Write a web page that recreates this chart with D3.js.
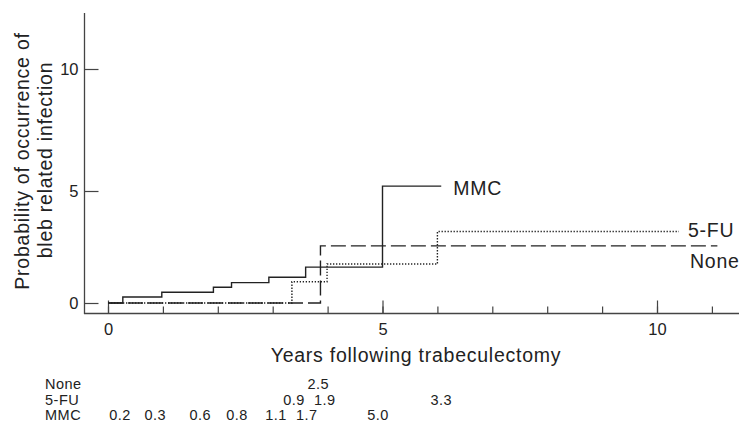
<!DOCTYPE html>
<html>
<head>
<meta charset="utf-8">
<script src="https://cdn.jsdelivr.net/npm/d3@7"></script>
<style>
  body { margin: 0; background: #fff; }
  svg { display: block; font-family: "Liberation Sans", Arial, sans-serif; }
  .lbl { fill: #222; font-size: 19.5px; letter-spacing: 0.75px; }
  .tbl { fill: #222; font-size: 14.5px; letter-spacing: 0.5px; }
</style>
</head>
<body>
<div id="chart"></div>
<script>
// Step curves (years, probability %)
const mmcTimes  = [0, 0.27, 0.98, 1.92, 2.25, 2.93, 3.6, 5.0];
const mmcValues = [0, 0.27, 0.48, 0.70, 0.91, 1.15, 1.60, 5.2];
const mmcEnd = 6.07;

const fuTimes  = [0, 3.35, 3.99, 6.0];
const fuValues = [0, 0.95, 1.74, 3.19];
const fuEnd = 10.4;

const noneTimes  = [0, 3.87];
const noneValues = [0, 2.55];
const noneEnd = 11.1;

// Numbers printed below the chart and the year each one sits under
const tableRows  = ['None', '5-FU', 'MMC'];
const noneLabels = ['2.5'];
const noneLabelYears = [3.83];
const fuLabels   = ['0.9', '1.9', '3.3'];
const fuLabelYears = [3.39, 3.95, 6.07];
const mmcLabels  = ['0.2', '0.3', '0.6', '0.8', '1.1', '1.7', '5.0'];
const mmcLabelYears = [0.22, 0.86, 1.68, 2.35, 3.06, 3.62, 4.92];

const xMajor = [0, 5, 10];
const xMinor = d3.range(0, 12);
const yTicks = [0, 5, 10];

const width = 739, height = 423;

const svg = d3.select('#chart').append('svg')
    .attr('width', width)
    .attr('height', height);

// y ticks in the original are not evenly spaced, so use a piecewise scale
const x = d3.scaleLinear().domain([0, 10]).range([108, 657]);
const y = d3.scaleLinear().domain([0, 5, 10]).range([303, 191, 69]);

const axisColor = '#444';
const fontStack = '"Liberation Sans", Arial, sans-serif';

// minor x ticks, every year
svg.append('g')
    .attr('transform', 'translate(0,313.5)')
    .call(d3.axisBottom(x).tickValues(xMinor).tickSize(-7).tickFormat(''))
    .call(g => g.select('.domain').remove())
    .call(g => g.selectAll('line').attr('stroke', axisColor).attr('stroke-width', 1.2));

// major x ticks with labels
svg.append('g')
    .attr('transform', 'translate(0,313.5)')
    .call(d3.axisBottom(x).tickValues(xMajor).tickSizeInner(-13).tickSizeOuter(0).tickPadding(10))
    .call(g => g.select('.domain').remove())
    .call(g => g.selectAll('line').attr('stroke', axisColor).attr('stroke-width', 1.2))
    .call(g => g.selectAll('text').attr('fill', '#222').attr('font-size', 16.5).attr('font-family', fontStack));

// y ticks
svg.append('g')
    .attr('transform', 'translate(84.5,0)')
    .call(d3.axisLeft(y).tickValues(yTicks).tickSizeInner(-14).tickSizeOuter(0).tickPadding(6))
    .call(g => g.select('.domain').remove())
    .call(g => g.selectAll('line').attr('stroke', axisColor).attr('stroke-width', 1.2))
    .call(g => g.selectAll('text').attr('fill', '#222').attr('font-size', 16.5).attr('font-family', fontStack));

// axis lines
svg.append('line')
    .attr('x1', 84.5).attr('x2', 84.5).attr('y1', 13).attr('y2', 314)
    .attr('stroke', axisColor).attr('stroke-width', 1.3);
svg.append('line')
    .attr('x1', 84).attr('x2', width).attr('y1', 313.5).attr('y2', 313.5)
    .attr('stroke', axisColor).attr('stroke-width', 1.3);

// curves
const series = [
  {name: 'None', times: noneTimes, values: noneValues, end: noneEnd, dash: '15,5', sw: 1.4,
   labels: noneLabels, labelYears: noneLabelYears},
  {name: '5-FU', times: fuTimes, values: fuValues, end: fuEnd, dash: '1.3,1.7', sw: 1.4,
   labels: fuLabels, labelYears: fuLabelYears},
  {name: 'MMC', times: mmcTimes, values: mmcValues, end: mmcEnd, dash: null, sw: 1.4,
   labels: mmcLabels, labelYears: mmcLabelYears}
];

const line = d3.line()
    .x(d => x(d[0]))
    .y(d => y(d[1]))
    .curve(d3.curveStepAfter);

series.forEach(s => {
  const pts = s.times.map((t, i) => [t, s.values[i]]);
  pts.push([s.end, s.values[s.values.length - 1]]);
  svg.append('path')
      .attr('d', line(pts))
      .attr('fill', 'none')
      .attr('stroke', '#222')
      .attr('stroke-width', s.sw)
      .attr('stroke-dasharray', s.dash);
});

// curve labels
svg.append('text').attr('class', 'lbl')
    .attr('x', x(mmcEnd) + 12).attr('y', 195).text('MMC');
svg.append('text').attr('class', 'lbl')
    .attr('x', x(fuEnd) + 9).attr('y', 236.5).text('5-FU');
svg.append('text').attr('class', 'lbl')
    .attr('x', 690).attr('y', 267.5).text('None');

// axis titles
svg.append('text').attr('class', 'lbl')
    .attr('text-anchor', 'middle')
    .attr('x', 416).attr('y', 361.5)
    .text('Years following trabeculectomy');

const yTitle = svg.append('g').attr('transform', 'translate(0,161) rotate(-90)');
yTitle.append('text').attr('class', 'lbl')
    .attr('text-anchor', 'middle').attr('x', 0).attr('y', 29)
    .text('Probability of occurrence of');
yTitle.append('text').attr('class', 'lbl')
    .attr('text-anchor', 'middle').attr('x', 1).attr('y', 52)
    .text('bleb related infection');

// table under the chart
const rowY = [388.5, 404.5, 420];
tableRows.forEach((r, i) => {
  svg.append('text').attr('class', 'tbl')
      .attr('x', 45).attr('y', rowY[i]).text(r);
});

series.forEach(s => {
  const row = tableRows.indexOf(s.name);
  svg.selectAll(null)
      .data(s.labels)
    .join('text')
      .attr('class', 'tbl')
      .attr('text-anchor', 'middle')
      .attr('x', (d, i) => x(s.labelYears[i]))
      .attr('y', rowY[row])
      .text(d => d);
});
</script>
</body>
</html>
